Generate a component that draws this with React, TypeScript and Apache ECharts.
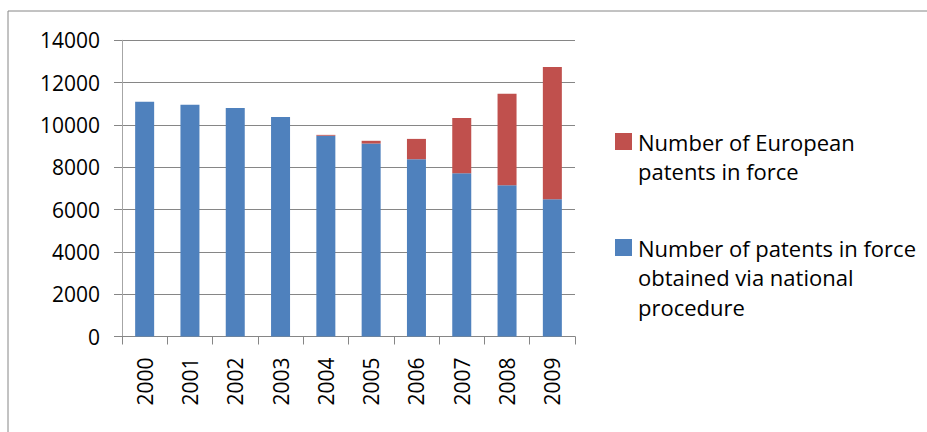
import React, { useEffect, useRef } from "react";
import * as echarts from "echarts";

const years = ["2000", "2001", "2002", "2003", "2004", "2005", "2006", "2007", "2008", "2009"];
const nationalPatents = [11090, 10950, 10800, 10380, 9490, 9120, 8380, 7720, 7150, 6490];
const europeanPatents = [0, 0, 0, 0, 40, 130, 960, 2610, 4320, 6250];
const yTicks = { min: 0, max: 14000, interval: 2000 };

const legendEuropean = ["Number of European", "patents in force"];
const legendNational = ["Number of patents in force", "obtained via national", "procedure"];

const BLUE = "#4F81BD";
const RED = "#C0504D";
const GRAY = "#868686";
const FONT = "'Open Sans', sans-serif";

export default function App() {
  const ref = useRef<HTMLDivElement>(null);

  useEffect(() => {
    if (!ref.current) return;
    const chart = echarts.init(ref.current, null, { renderer: "svg" });

    // Legend entry: square swatch aligned with the first text line
    const legendItem = (y: number, color: string, lines: string[]) => ({
      type: "group",
      x: 615,
      y,
      children: [
        { type: "rect", shape: { x: 0, y: 0, width: 17, height: 17 }, style: { fill: color } },
        {
          type: "text",
          x: 23,
          y: -6,
          style: {
            text: lines.join("\n"),
            font: `22px ${FONT}`,
            lineHeight: 29.5,
            fill: "#000",
          },
        },
      ],
    });

    chart.setOption({
      animation: false,
      backgroundColor: "#fff",
      grid: { left: 122, right: 352, top: 40.3, bottom: 95.5 },
      xAxis: {
        type: "category",
        data: years,
        axisLine: { lineStyle: { color: GRAY } },
        axisTick: { show: true, length: 8, lineStyle: { color: GRAY }, alignWithLabel: false },
        axisLabel: { rotate: 90, margin: 21, fontSize: 21, fontFamily: FONT, color: "#000" },
      },
      yAxis: {
        type: "value",
        min: yTicks.min,
        max: yTicks.max,
        interval: yTicks.interval,
        axisLine: { show: true, lineStyle: { color: "#a6a6a6" } },
        axisTick: { show: true, length: 8, lineStyle: { color: GRAY } },
        splitLine: { lineStyle: { color: GRAY } },
        axisLabel: {
          margin: 22,
          fontSize: 21,
          fontFamily: FONT,
          color: "#000",
          formatter: (v: number) => String(v),
        },
      },
      series: [
        {
          name: "Number of patents in force obtained via national procedure",
          type: "bar",
          stack: "total",
          data: nationalPatents,
          barWidth: 19,
          itemStyle: { color: BLUE },
        },
        {
          name: "Number of European patents in force",
          type: "bar",
          stack: "total",
          data: europeanPatents,
          barWidth: 19,
          itemStyle: { color: RED },
        },
      ],
      graphic: [
        {
          type: "rect",
          shape: { x: 8, y: 11, width: 940, height: 440 },
          style: { fill: "none", stroke: GRAY, lineWidth: 1 },
          silent: true,
        },
        legendItem(133, RED, legendEuropean),
        legendItem(239, BLUE, legendNational),
      ],
    });

    return () => chart.dispose();
  }, []);

  return <div ref={ref} style={{ width: 927, height: 432, position: "absolute", left: 0, top: 0 }} />;
}
